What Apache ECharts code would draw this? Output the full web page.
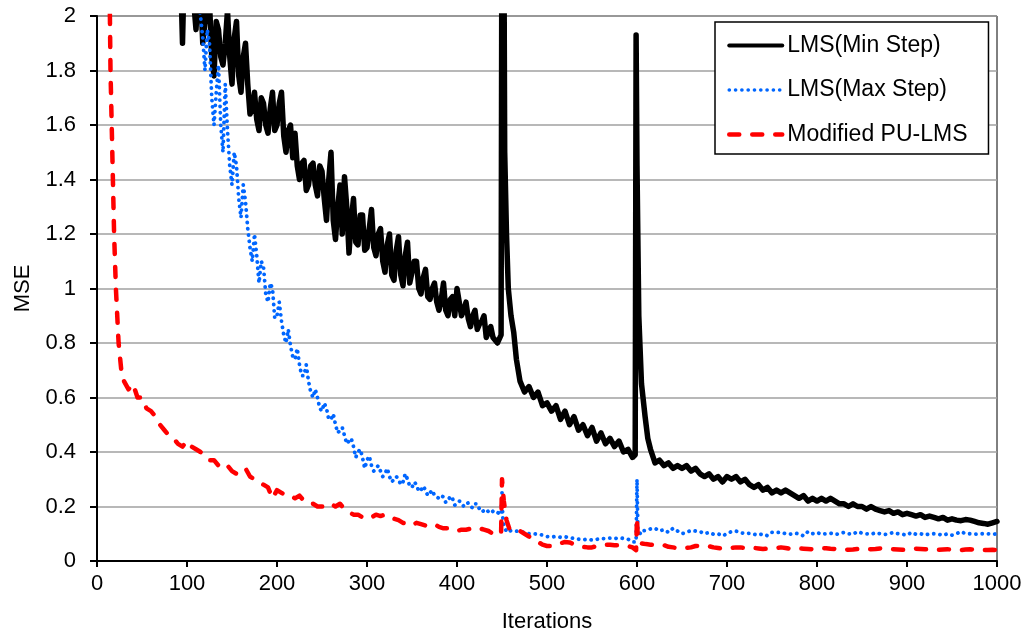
<!DOCTYPE html>
<html>
<head>
<meta charset="utf-8">
<script src="https://cdn.jsdelivr.net/npm/echarts@6/dist/echarts.min.js"></script>
<style>
html,body{margin:0;padding:0;background:#fff;}
#chart{width:1029px;height:639px;}
</style>
</head>
<body>
<div id="chart"></div>
<script>
// Iterations are sampled every 5 steps (0..1000); half-step samples in the noisy
// stretches and extra detail around the transients.
const iterationStep = 5;
const seriesNames = ['LMS(Min Step)', 'LMS(Max Step)', 'Modified PU-LMS'];
const xTicks = [0, 100, 200, 300, 400, 500, 600, 700, 800, 900, 1000];
const yTicks = [0, 0.2, 0.4, 0.6, 0.8, 1, 1.2, 1.4, 1.6, 1.8, 2];

const lmsMinStep = [
  4.5, 4.2, 4.0, 3.8, 3.6, 3.4, 3.3, 3.1, 3.0, 2.9, 2.8, 2.7, 2.6, 2.55, 2.5, 2.4, 2.35, 2.3,
  2.3, 1.9, 2.3, 2.2, 1.95, 2.1, 1.98, 2.05, 1.78, 1.95, 1.82, 2.02,
  1.75, 1.98, 1.72, 1.9, 1.64, 1.72, 1.58, 1.68, 1.57, 1.72, 1.6, 1.72, 1.5, 1.6,
  1.57, 1.4, 1.47, 1.38, 1.46, 1.34, 1.43, 1.25, 1.5, 1.18, 1.38, 1.41,
  1.13, 1.33, 1.16, 1.27, 1.15, 1.29, 1.12, 1.22, 1.06, 1.2, 1.03, 1.19,
  1.01, 1.17, 1.06, 1.1, 0.98, 1.07, 0.96, 1.02, 0.92, 1.02, 0.9, 0.97,
  1.0, 0.9, 0.95, 0.86, 0.92, 0.87, 0.9, 0.84, 0.82, 0.8,
  2.6, 1.5, 0.88, 0.72,
  0.66, 0.62, 0.64, 0.6, 0.62, 0.57, 0.58, 0.55, 0.57, 0.52, 0.55, 0.5,
  0.53, 0.48, 0.5, 0.46, 0.49, 0.44, 0.47, 0.43, 0.45, 0.42, 0.44, 0.4, 0.41, 0.38,
  1.9, 0.65, 0.5, 0.41,
  0.36, 0.37, 0.35, 0.36, 0.34, 0.35, 0.34, 0.35, 0.33, 0.34, 0.32, 0.31,
  0.32, 0.3, 0.31, 0.29, 0.31, 0.3, 0.31, 0.29, 0.3, 0.28, 0.27, 0.28,
  0.26, 0.27, 0.25, 0.26, 0.25, 0.26, 0.25, 0.24, 0.23, 0.24, 0.22, 0.23,
  0.22, 0.23, 0.22, 0.23, 0.22, 0.21, 0.21, 0.2, 0.21, 0.2, 0.2, 0.19,
  0.2, 0.19, 0.185, 0.18, 0.185, 0.175, 0.18, 0.17, 0.175, 0.17, 0.165, 0.17,
  0.16, 0.165, 0.16, 0.155, 0.16, 0.15, 0.155, 0.15, 0.148, 0.152, 0.15, 0.145,
  0.14, 0.138, 0.135, 0.14, 0.145
];
// half-step samples at 92.5, 97.5, ... 442.5
const lmsMinStepMidStart = 92.5;
const lmsMinStepMid = [
  2.2, 2.25, 2.1, 2.05, 2.1, 1.9, 2.03, 1.85, 1.98, 1.85,
  1.9, 1.85, 1.92, 1.78, 1.85, 1.75, 1.66, 1.62, 1.7, 1.6,
  1.66, 1.58, 1.68, 1.56, 1.58, 1.48, 1.45, 1.46, 1.36, 1.45,
  1.38, 1.45, 1.33, 1.4, 1.25, 1.3, 1.2, 1.3, 1.25, 1.17,
  1.27, 1.14, 1.22, 1.15, 1.2, 1.1, 1.16, 1.05, 1.14, 1.05,
  1.12, 1.02, 1.1, 1.0, 1.04, 0.97, 1.0, 0.95, 0.96, 0.92,
  0.96, 0.9, 0.95, 0.92, 0.89, 0.9, 0.85, 0.88, 0.82, 0.86, 0.81
];
const lmsMinStepSpike450 = [[447,0.8],[449,0.83],[450,2.6],[452,2.4],[453,1.5],[455,1.2],[457,1.0],[460,0.9],[463,0.84],[466,0.74]];
const lmsMinStepSpike600 = [[597,0.38],[598,0.39],[599,1.93],[600,1.45],[602,0.9],[605,0.65],[609,0.53],[612,0.45],[615,0.41],[618,0.38]];

const lmsMaxStep = [
  4.8, 4.6, 4.4, 4.2, 4.0, 3.8, 3.6, 3.45, 3.3, 3.15, 3.0, 2.9, 2.8, 2.7, 2.6, 2.5, 2.45, 2.4,
  2.33, 2.27, 2.2, 2.15, 2.1, 2.0, 1.8, 1.9, 1.6, 1.82, 1.5, 1.58,
  1.38, 1.45, 1.26, 1.32, 1.15, 1.2, 1.02, 1.08, 0.95, 1.0, 0.9, 0.88, 0.8, 0.79,
  0.74, 0.72, 0.68, 0.66, 0.6, 0.6, 0.55, 0.56, 0.52, 0.5, 0.48, 0.46,
  0.44, 0.42, 0.4, 0.38, 0.37, 0.35, 0.34, 0.33, 0.32, 0.31, 0.3, 0.3,
  0.29, 0.3, 0.27, 0.28, 0.26, 0.26, 0.25, 0.24, 0.23, 0.235, 0.22, 0.23,
  0.21, 0.215, 0.21, 0.2, 0.21, 0.19, 0.185, 0.18, 0.183, 0.178,
  0.2, 0.105, 0.112, 0.11,
  0.108, 0.105, 0.1, 0.1, 0.098, 0.095, 0.09, 0.088, 0.09, 0.087, 0.089, 0.085,
  0.083, 0.08, 0.078, 0.08, 0.077, 0.079, 0.083, 0.082, 0.084, 0.082, 0.085, 0.083, 0.08, 0.07,
  0.12, 0.11, 0.112, 0.118,
  0.12, 0.11, 0.115, 0.105, 0.12, 0.11, 0.1, 0.105, 0.112, 0.11, 0.108, 0.1,
  0.105, 0.098, 0.1, 0.092, 0.1, 0.108, 0.11, 0.104, 0.1, 0.102, 0.098, 0.095,
  0.1, 0.093, 0.105, 0.104, 0.106, 0.1, 0.098, 0.102, 0.1, 0.092, 0.108, 0.1,
  0.105, 0.098, 0.1, 0.102, 0.097, 0.1, 0.105, 0.1, 0.098, 0.108, 0.102, 0.1,
  0.098, 0.104, 0.1, 0.097, 0.1, 0.105, 0.1, 0.098, 0.095, 0.105, 0.098, 0.1,
  0.095, 0.1, 0.1, 0.098, 0.094, 0.1, 0.095, 0.1, 0.108, 0.1, 0.1, 0.098,
  0.1, 0.1, 0.1, 0.098, 0.1
];
// half-step samples at 117.5, 122.5, ... 442.5
const lmsMaxStepMidStart = 117.5;
const lmsMaxStepMid = [
  1.92, 1.95, 1.7, 1.72, 1.6, 1.75, 1.45, 1.5, 1.33, 1.38,
  1.22, 1.1, 1.12, 1.1, 0.98, 1.02, 0.89, 0.95, 0.83, 0.85,
  0.75, 0.78, 0.68, 0.72, 0.62, 0.63, 0.56, 0.58, 0.52, 0.54,
  0.47, 0.49, 0.43, 0.45, 0.38, 0.41, 0.34, 0.385, 0.33, 0.35,
  0.31, 0.34, 0.29, 0.31, 0.28, 0.32, 0.275, 0.29, 0.255, 0.275,
  0.24, 0.26, 0.235, 0.24, 0.215, 0.238, 0.205, 0.22, 0.2, 0.213,
  0.195, 0.21, 0.18, 0.19, 0.175, 0.185
];
const lmsMaxStepSpike450 = [[447,0.178],[449,0.17],[450,0.25],[451,0.15],[453,0.12],[456,0.105]];
const lmsMaxStepSpike600 = [[597,0.07],[599,0.07],[600,0.3],[601,0.11],[604,0.1]];

const modifiedPuLms = [
  6.0, 4.5, 3.0, 2.0, 1.08, 0.76, 0.66, 0.63, 0.65, 0.6, 0.6, 0.56, 0.55, 0.53, 0.5, 0.48, 0.46, 0.45,
  0.43, 0.42, 0.44, 0.42, 0.41, 0.4, 0.39, 0.37, 0.37, 0.35, 0.34, 0.35,
  0.33, 0.32, 0.33, 0.34, 0.31, 0.3, 0.29, 0.28, 0.27, 0.23, 0.26, 0.25, 0.24, 0.24,
  0.23, 0.24, 0.22, 0.21, 0.21, 0.2, 0.2, 0.2, 0.21, 0.2, 0.21, 0.19,
  0.18, 0.17, 0.17, 0.16, 0.165, 0.16, 0.17, 0.165, 0.17, 0.16, 0.155, 0.15,
  0.14, 0.135, 0.13, 0.14, 0.135, 0.13, 0.13, 0.135, 0.125, 0.12, 0.12, 0.115,
  0.11, 0.115, 0.115, 0.118, 0.115, 0.12, 0.115, 0.11, 0.1, 0.095,
  0.3, 0.15, 0.11, 0.115,
  0.11, 0.1, 0.09, 0.08, 0.07, 0.06, 0.055, 0.055, 0.058, 0.065, 0.07, 0.068,
  0.062, 0.058, 0.052, 0.05, 0.05, 0.055, 0.058, 0.06, 0.06, 0.058, 0.058, 0.056, 0.055, 0.05,
  0.16, 0.065, 0.062, 0.06,
  0.058, 0.06, 0.058, 0.052, 0.05, 0.047, 0.046, 0.048, 0.05, 0.055, 0.056, 0.055,
  0.054, 0.05, 0.048, 0.046, 0.045, 0.048, 0.05, 0.05, 0.048, 0.046, 0.048, 0.046,
  0.044, 0.046, 0.047, 0.048, 0.05, 0.048, 0.045, 0.044, 0.046, 0.045, 0.044, 0.043,
  0.044, 0.046, 0.047, 0.045, 0.044, 0.043, 0.042, 0.041, 0.042, 0.044, 0.045, 0.044,
  0.043, 0.044, 0.046, 0.045, 0.044, 0.043, 0.042, 0.041, 0.042, 0.044, 0.045, 0.044,
  0.043, 0.042, 0.042, 0.041, 0.042, 0.043, 0.042, 0.041, 0.04, 0.042, 0.043, 0.042,
  0.041, 0.04, 0.04, 0.041, 0.04
];
const modifiedPuLmsStart = [[0,8.0],[5,5.0],[10,3.2],[14,2.1],[15,1.8],[17,1.5],[19,1.2],[21,1.0],[24,0.8],[27,0.7],[30,0.66]];
const modifiedPuLmsSpike450 = [[447,0.095],[449,0.1],[450,0.3],[452,0.22],[455,0.15],[458,0.12],[462,0.11]];
const modifiedPuLmsSpike600 = [[597,0.05],[599,0.04],[600,0.16],[601,0.07],[604,0.065]];

function buildSeries(values, patches, midStart, midValues) {
  let pts = values.map((v, i) => [i * iterationStep, v]);
  patches.forEach(p => {
    const lo = p[0][0], hi = p[p.length - 1][0];
    pts = pts.filter(q => q[0] < lo || q[0] > hi).concat(p);
  });
  if (midValues) pts = pts.concat(midValues.map((v, i) => [midStart + i * iterationStep, v]));
  pts.sort((a, b) => a[0] - b[0]);
  return pts;
}

const FONT = "'Liberation Sans', Arial, sans-serif";
const chart = echarts.init(document.getElementById('chart'), null, {renderer: 'canvas'});
chart.setOption({
  animation: false,
  backgroundColor: '#fff',
  grid: {left: 97, right: 32, top: 16, bottom: 78, show: true, borderColor: '#000', borderWidth: 1, backgroundColor: 'transparent'},
  xAxis: {
    type: 'value', min: xTicks[0], max: xTicks[xTicks.length - 1], interval: 100,
    name: 'Iterations', nameLocation: 'middle', nameGap: 50,
    nameTextStyle: {fontSize: 22, color: '#000', fontFamily: FONT},
    axisLine: {show: true, onZero: false, lineStyle: {color: '#000', width: 2}},
    axisTick: {show: true, inside: false, length: 6, lineStyle: {color: '#000', width: 2}},
    axisLabel: {fontSize: 22, color: '#000', fontFamily: FONT, margin: 12, formatter: v => String(v)},
    splitLine: {show: false}
  },
  yAxis: {
    type: 'value', min: yTicks[0], max: yTicks[yTicks.length - 1], interval: 0.2,
    name: 'MSE', nameLocation: 'middle', nameGap: 63, nameRotate: 90,
    nameTextStyle: {fontSize: 22, color: '#000', fontFamily: FONT},
    axisLine: {show: true, lineStyle: {color: '#000', width: 2}},
    axisTick: {show: true, inside: false, length: 7, lineStyle: {color: '#000', width: 2}},
    axisLabel: {fontSize: 22, color: '#000', fontFamily: FONT, margin: 21},
    splitLine: {show: true, lineStyle: {color: '#a0a0a0', width: 1.5}}
  },
  legend: {
    orient: 'vertical', left: 715, top: 22,
    padding: [12, 21, 8, 12],
    itemWidth: 53, itemHeight: 14, itemGap: 21.5,
    backgroundColor: '#fff', borderColor: '#000', borderWidth: 1.5, borderRadius: 0,
    itemStyle: {color: 'transparent', borderColor: 'transparent', borderWidth: 0, opacity: 0},
    textStyle: {fontSize: 23, color: '#000', fontFamily: FONT},
    data: [
      {name: seriesNames[0], lineStyle: {width: 4}},
      {name: seriesNames[1], lineStyle: {width: 3.6}},
      {name: seriesNames[2], lineStyle: {width: 4.5}}
    ]
  },
  series: [
    {
      name: seriesNames[0], type: 'line', symbol: 'none', showSymbol: false, clip: true,
      data: buildSeries(lmsMinStep, [lmsMinStepSpike450, lmsMinStepSpike600], lmsMinStepMidStart, lmsMinStepMid),
      lineStyle: {color: '#000', width: 5.5, join: 'round', cap: 'round'},
      itemStyle: {color: '#000'}
    },
    {
      name: seriesNames[1], type: 'line', symbol: 'none', showSymbol: false, clip: true,
      data: buildSeries(lmsMaxStep, [lmsMaxStepSpike450, lmsMaxStepSpike600], lmsMaxStepMidStart, lmsMaxStepMid),
      lineStyle: {color: '#0066ff', width: 3.8, type: [0.1, 6.2], cap: 'round', join: 'round'},
      itemStyle: {color: '#0066ff'}
    },
    {
      name: seriesNames[2], type: 'line', symbol: 'none', showSymbol: false, clip: true,
      data: buildSeries(modifiedPuLms, [modifiedPuLmsStart, modifiedPuLmsSpike450, modifiedPuLmsSpike600]),
      lineStyle: {color: '#ff0000', width: 4.5, type: [10, 13], cap: 'round', join: 'round'},
      itemStyle: {color: '#ff0000'}
    }
  ]
});
</script>
</body>
</html>
